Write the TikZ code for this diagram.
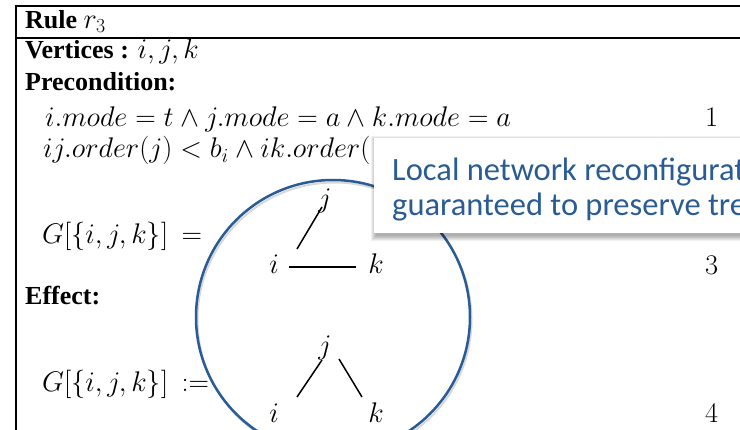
\RequirePackage{fix-cm}
\documentclass[tikz,border=0pt]{standalone}
\usepackage[no-math]{fontspec}
\setmainfont{Liberation Serif}
\newfontfamily\calloutfont{Carlito}
\usetikzlibrary{calc}
\definecolor{pblue}{RGB}{41,92,148}
\newcommand{\mathsz}{\fontsize{28.4}{30}\selectfont}
\begin{document}
\begin{tikzpicture}[x=1pt,y=-1pt,
  boldtxt/.style={anchor=base west, inner sep=0pt, font=\fontsize{26}{28}\selectfont\bfseries},
  mth/.style={anchor=base west, inner sep=0pt, font=\mathsz},
  gv/.style={anchor=base, inner sep=0pt, font=\mathsz},
  gedge/.style={line width=1.5pt},
  tabline/.style={line width=1.6pt},
  calltxt/.style={anchor=base west, inner sep=0pt, text=pblue, font=\calloutfont\fontsize{32.5}{35}\selectfont}]
\useasboundingbox (0,0) rectangle (740,430);
\fill[white] (0,0) rectangle (740,430);
% table lines
\coordinate (tl) at (16,6);
\coordinate (tr) at (740,6);
\coordinate (ml) at (16,38);
\coordinate (mr) at (740,38);
\coordinate (bl) at (16,430);
\draw[tabline] (tr) -- (tl) -- (bl);
\draw[tabline] (ml) -- (mr);
% texts
\node[boldtxt] (rule) at (25,28.5) {Rule {\mdseries\mathsz$r_3$}};
\node[boldtxt] (vert) at (25,58.5) {Vertices : {\mdseries\mathsz$i,j,k$}};
\node[boldtxt] (pre) at (25,90.5) {Precondition:};
\node[mth, text depth=2pt] (c1) at (45,127) {$i.mode=t\wedge j.mode=a\wedge k.mode=a$};
\node[mth] (n1) at (705,127) {$1$};
\node[mth, text height=14pt] (c2) at (43,158) {$ij.order(j)<b_i\wedge ik.order($};
\node[mth] (g1) at (42,244) {$G[\{i,j,k\}]\hspace{0.2em}=$};
\node[mth] (n3) at (705,275) {$3$};
\node[boldtxt] (eff) at (25,304.5) {Effect:};
\node[mth] (g2) at (42,392) {$G[\{i,j,k\}]\hspace{0.2em}:=$};
\node[mth] (n4) at (705,423) {$4$};
% graph 1
\node[gv] (j1) at (325,208) {$j$};
\node[gv] (i1) at (274,274) {$i$};
\node[gv] (k1) at (376,274) {$k$};
\draw[gedge] ($(i1.base)+(15,-7)$) -- ($(k1.base)+(-20,-7)$);
\draw[gedge] ($(i1.base)+(23,-25)$) -- ($(j1.base)+(-3,-1)$);
% graph 2
\node[gv] (j2) at (325,355) {$j$};
\node[gv] (i2) at (274,423) {$i$};
\node[gv] (k2) at (376,423) {$k$};
\draw[gedge] ($(i2.base)+(23,-26)$) -- ($(j2.base)+(-3,5)$);
\draw[gedge] ($(j2.base)+(14,4)$) -- ($(k2.base)+(-14,-26)$);
% lens circle
\draw[black!30, line width=2pt, opacity=0.5] (334.5,319.5) circle[radius=137];
\node[circle, draw=pblue, line width=2.5pt, minimum size=274pt, inner sep=0pt] (lens) at (333,317) {};
% callout with soft shadow
\foreach \d in {0,1,2,3,4,5}{
  \fill[black, opacity=0.06] (376-\d,141-\d) rectangle (760+\d,236+\d);
}
\node[anchor=north west, fill=white, minimum width=380pt, minimum height=95pt, inner sep=0pt] (call) at (374,138) {};
\node[calltxt] (t1) at (392,181) {Local network reconfigurat};
\node[calltxt] (t2) at (392,216) {guaranteed to preserve tre};
\end{tikzpicture}
\end{document}
